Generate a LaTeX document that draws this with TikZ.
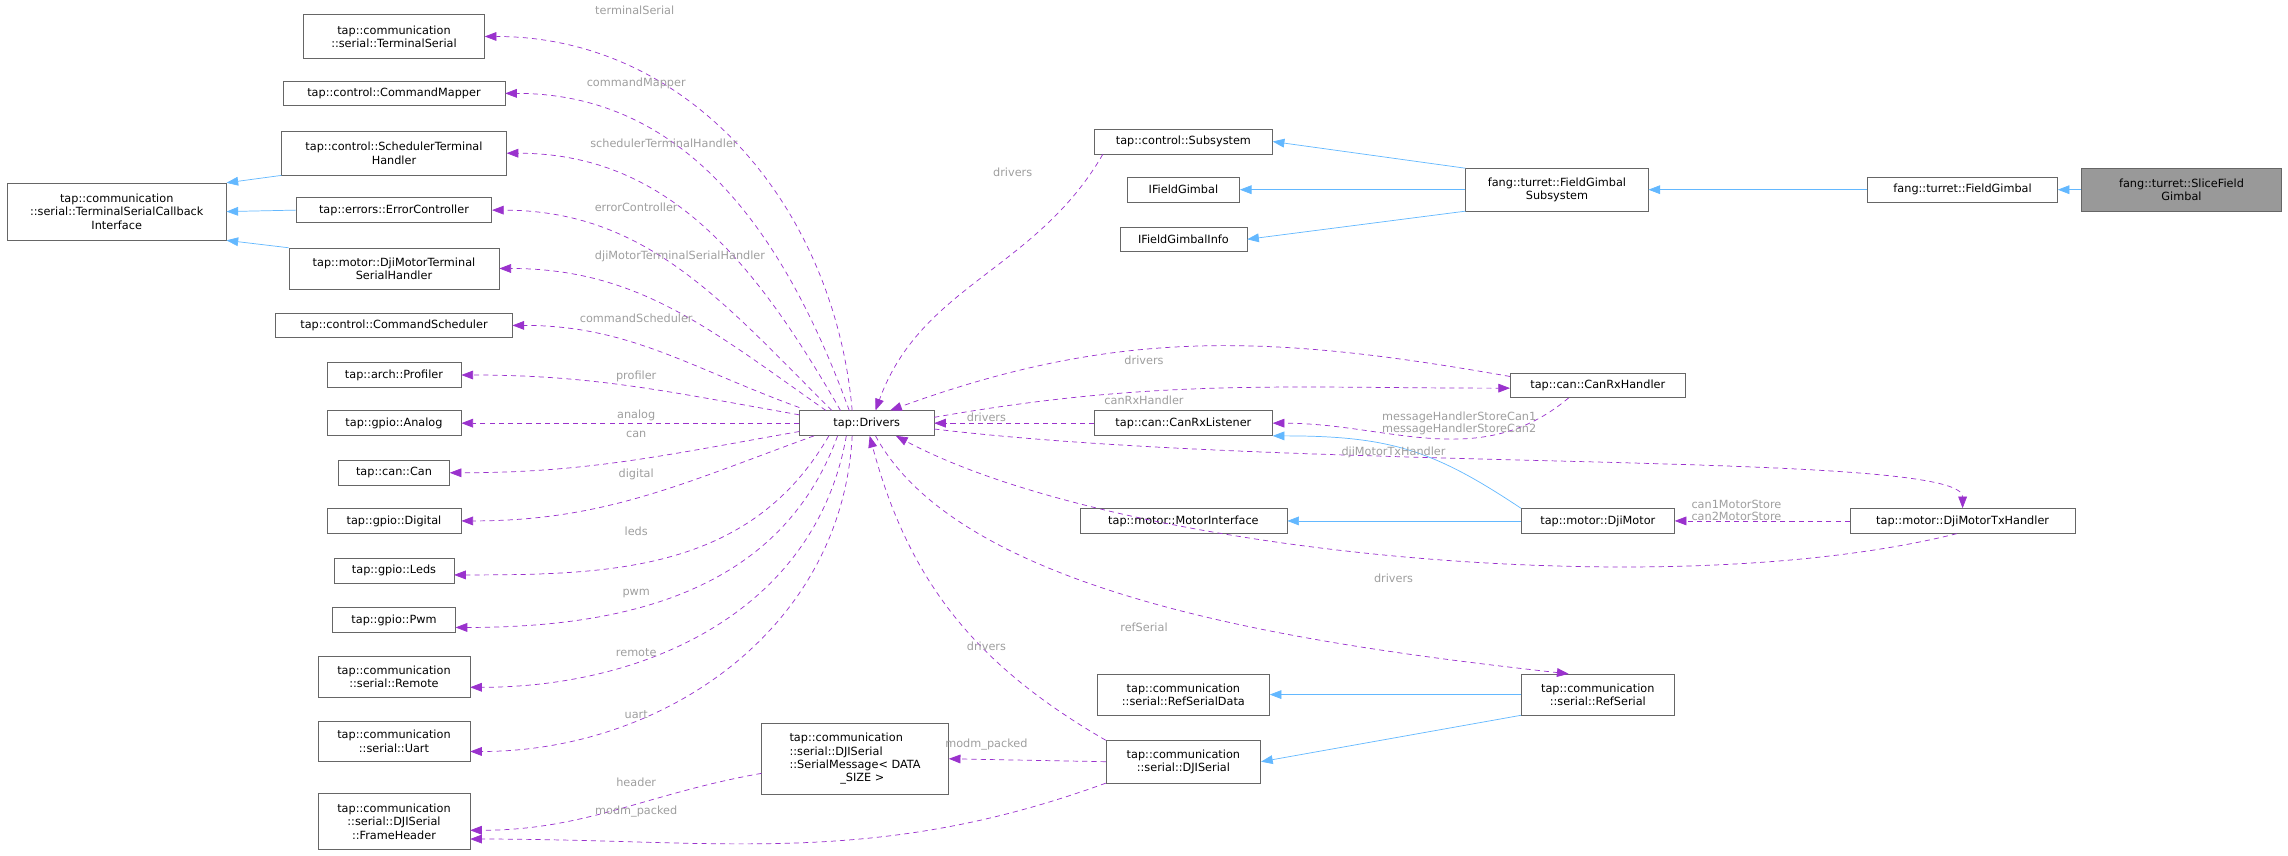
\documentclass[tikz,border=0pt]{standalone}
\usepackage{fontspec}
\setmainfont{DejaVu Sans}
\usetikzlibrary{arrows.meta}
\definecolor{dep}{HTML}{9A32CD}
\definecolor{inh}{HTML}{63B8FF}
\definecolor{lab}{HTML}{9E9E9E}
\definecolor{edge}{HTML}{666666}
\begin{document}
\begin{tikzpicture}[x=0.5mm,y=-0.5mm,
  box/.style={draw=edge,line width=0.6pt,fill=white,font=\fontsize{11}{13}\selectfont,align=center,inner sep=2pt,minimum height=8.5mm},
  dp/.style={draw=dep,dashed,dash pattern=on 5pt off 4pt,line width=0.7pt,-{Triangle[length=4mm,width=3mm]}},
  ih/.style={draw=inh,line width=0.7pt,-{Triangle[length=4mm,width=3mm]}},
  lb/.style={text=lab,font=\fontsize{11}{12}\selectfont,align=center,inner sep=1pt}]
\useasboundingbox (0,0) rectangle (1568,586);
% left column
\node[box,minimum width=62mm,minimum height=15mm] (ts) at (270,25) {tap::communication\\::serial::TerminalSerial};
\node[box,minimum width=76mm] (cm) at (270,64) {tap::control::CommandMapper};
\node[box,minimum width=77mm,minimum height=15mm] (sth) at (270,105) {tap::control::SchedulerTerminal\\Handler};
\node[box,minimum width=75mm,minimum height=19.5mm] (tsci) at (80,145) {tap::communication\\::serial::TerminalSerialCallback\\Interface};
\node[box,minimum width=67mm] (ec) at (270,144) {tap::errors::ErrorController};
\node[box,minimum width=72mm,minimum height=14mm] (dmt) at (270,184) {tap::motor::DjiMotorTerminal\\SerialHandler};
\node[box,minimum width=81mm] (cs) at (270,223) {tap::control::CommandScheduler};
\node[box,minimum width=46mm] (prof) at (270,257) {tap::arch::Profiler};
\node[box,minimum width=46mm] (ana) at (270,290) {tap::gpio::Analog};
\node[box,minimum width=38mm] (can) at (270,324) {tap::can::Can};
\node[box,minimum width=46mm] (dig) at (270,357) {tap::gpio::Digital};
\node[box,minimum width=41mm] (leds) at (270,391) {tap::gpio::Leds};
\node[box,minimum width=42mm] (pwm) at (270,425) {tap::gpio::Pwm};
\node[box,minimum width=52mm,minimum height=14mm] (rem) at (270,464) {tap::communication\\::serial::Remote};
\node[box,minimum width=52mm,minimum height=14mm] (uart) at (270,508) {tap::communication\\::serial::Uart};
\node[box,minimum width=52mm,minimum height=19mm] (fh) at (270,563) {tap::communication\\::serial::DJISerial\\::FrameHeader};
% center
\node[box,minimum width=46mm] (drv) at (594,290) {tap::Drivers};
\node[box,minimum width=64mm,minimum height=24.5mm,align=left] (sm) at (586,520) {tap::communication\\::serial::DJISerial\\::SerialMessage< DATA\\\hspace*{4.5em}\_SIZE >};
\node[box,minimum width=61mm] (sub) at (811,97) {tap::control::Subsystem};
\node[box,minimum width=38.5mm] (ifg) at (811,130) {IFieldGimbal};
\node[box,minimum width=43.5mm] (ifgi) at (811,164) {IFieldGimbalInfo};
\node[box,minimum width=62.5mm,minimum height=14.5mm] (fgs) at (1067,130) {fang::turret::FieldGimbal\\Subsystem};
\node[box,minimum width=65mm] (fg) at (1345,130) {fang::turret::FieldGimbal};
\node[box,minimum width=68.5mm,minimum height=14.5mm,fill=black!40] (sfg) at (1495,130) {fang::turret::SliceField\\Gimbal};
\node[box,minimum width=60mm] (crh) at (1095,264) {tap::can::CanRxHandler};
\node[box,minimum width=61mm] (crl) at (811,290) {tap::can::CanRxListener};
\node[box,minimum width=71mm] (mi) at (811,357) {tap::motor::MotorInterface};
\node[box,minimum width=52.5mm] (dm) at (1095,357) {tap::motor::DjiMotor};
\node[box,minimum width=77mm] (txh) at (1345,357) {tap::motor::DjiMotorTxHandler};
\node[box,minimum width=59mm,minimum height=14mm] (rsd) at (811,476) {tap::communication\\::serial::RefSerialData};
\node[box,minimum width=52.5mm,minimum height=14mm] (rs) at (1095,476) {tap::communication\\::serial::RefSerial};
\node[box,minimum width=53mm,minimum height=14.5mm] (djs) at (811,522) {tap::communication\\::serial::DJISerial};
% inheritance
\draw[ih] (sth.south west) -- (tsci.north east);
\draw[ih] (ec.west) -- (tsci.east);
\draw[ih] (dmt.north west) -- (tsci.south east);
\draw[ih] (fgs.north west) -- (sub.east);
\draw[ih] (fgs.west) -- (ifg.east);
\draw[ih] (fgs.south west) -- (ifgi.east);
\draw[ih] (fg.west) -- (fgs.east);
\draw[ih] (sfg.west) -- (fg.east);
\draw[ih] (dm.north west) .. controls +(-60,-40) and +(80,0) .. (crl.south east);
\draw[ih] (dm.west) -- (mi.east);
\draw[ih] (rs.west) -- (rsd.east);
\draw[ih] (rs.south west) -- (djs.east);
% dependencies from Drivers to left column
\draw[dp] ([xshift=-5mm]drv.north) to[out=95,in=0] (ts.east);
\draw[dp] ([xshift=-6mm]drv.north) to[out=110,in=0] (cm.east);
\draw[dp] ([xshift=-9mm]drv.north) to[out=120,in=0] (sth.east);
\draw[dp] ([xshift=-12mm]drv.north) to[out=135,in=0] (ec.east);
\draw[dp] ([xshift=-14mm]drv.north) to[out=145,in=0] (dmt.east);
\draw[dp] ([yshift=1mm]drv.north west) to[out=160,in=0] (cs.east);
\draw[dp] ([yshift=-1.5mm]drv.north west) to[out=170,in=0] (prof.east);
\draw[dp] (drv.west) -- (ana.east);
\draw[dp] ([yshift=1.5mm]drv.south west) to[out=190,in=0] (can.east);
\draw[dp] ([xshift=5mm]drv.south west) to[out=200,in=0] (dig.east);
\draw[dp] ([xshift=-13mm]drv.south) to[out=-120,in=0] ([yshift=-1.5mm]leds.east);
\draw[dp] ([xshift=-10mm]drv.south) to[out=-110,in=0] ([yshift=-2.5mm]pwm.east);
\draw[dp] ([xshift=-7mm]drv.south) to[out=-100,in=0] ([yshift=-3.5mm]rem.east);
\draw[dp] ([xshift=-5mm]drv.south) to[out=-93,in=0] ([yshift=-3.5mm]uart.east);
\draw[dp] ([yshift=-5mm]sm.west) to[out=190,in=0] ([yshift=-3mm]fh.east);
\draw[dp] (djs.south west) to[out=-160,in=0] ([yshift=-6mm]fh.east);
\draw[dp] (djs.west) -- (sm.east);
% right side
\draw[dp] ([xshift=3mm]sub.south west) to[out=-120,in=70] ([xshift=3mm]drv.north);
\draw[dp] ([yshift=3mm]crh.west) to[out=170,in=20] ([xshift=8mm]drv.north);
\draw[dp] ([yshift=2mm]drv.east) to[out=10,in=180] ([yshift=-1mm]crh.west);
\draw[dp] ([xshift=-10mm]crh.south) to[out=-140,in=0] (crl.east);
\draw[dp] (crl.west) -- (drv.east);
\draw[dp] ([yshift=-2mm]drv.east) .. controls +(250,30) and +(0,-40) .. (txh.north);
\draw[dp] ([xshift=-2mm]txh.south) .. controls +(-200,50) and +(150,80) .. ([xshift=10mm]drv.south);
\draw[dp] (txh.west) -- (dm.east);
\draw[dp] ([xshift=3mm]drv.south) .. controls +(60,110) and +(-180,-20) .. ([xshift=-10mm]rs.north);
\draw[dp] (djs.north west) to[out=150,in=-75] ([xshift=1mm]drv.south);
% labels
\node[lb] (l1) at (435,7) {terminalSerial};
\node[lb] (l2) at (436,57) {commandMapper};
\node[lb] (l3) at (455,98) {schedulerTerminalHandler};
\node[lb] (l4) at (436,142) {errorController};
\node[lb] (l5) at (466,176) {djiMotorTerminalSerialHandler};
\node[lb] (l6) at (436,218) {commandScheduler};
\node[lb] (l7) at (436,258) {profiler};
\node[lb] (l8) at (436,285) {analog};
\node[lb] (l9) at (436,298) {can};
\node[lb] (l10) at (436,325) {digital};
\node[lb] (l11) at (436,364) {leds};
\node[lb] (l12) at (436,407) {pwm};
\node[lb] (l13) at (436,447) {remote};
\node[lb] (l14) at (436,490) {uart};
\node[lb] (l15) at (436,536) {header};
\node[lb] (l16) at (436,556) {modm\_packed};
\node[lb] (l17) at (676,510) {modm\_packed};
\node[lb] (l18) at (694,118) {drivers};
\node[lb] (l19) at (784,247) {drivers};
\node[lb] (l20) at (784,274) {canRxHandler};
\node[lb] (l21) at (1000,290) {messageHandlerStoreCan1\\messageHandlerStoreCan2};
\node[lb] (l22) at (676,286) {drivers};
\node[lb] (l23) at (955,310) {djiMotorTxHandler};
\node[lb] (l24) at (1190,350) {can1MotorStore\\can2MotorStore};
\node[lb] (l25) at (955,396) {drivers};
\node[lb] (l26) at (784,430) {refSerial};
\node[lb] (l27) at (676,443) {drivers};
\end{tikzpicture}
\end{document}
